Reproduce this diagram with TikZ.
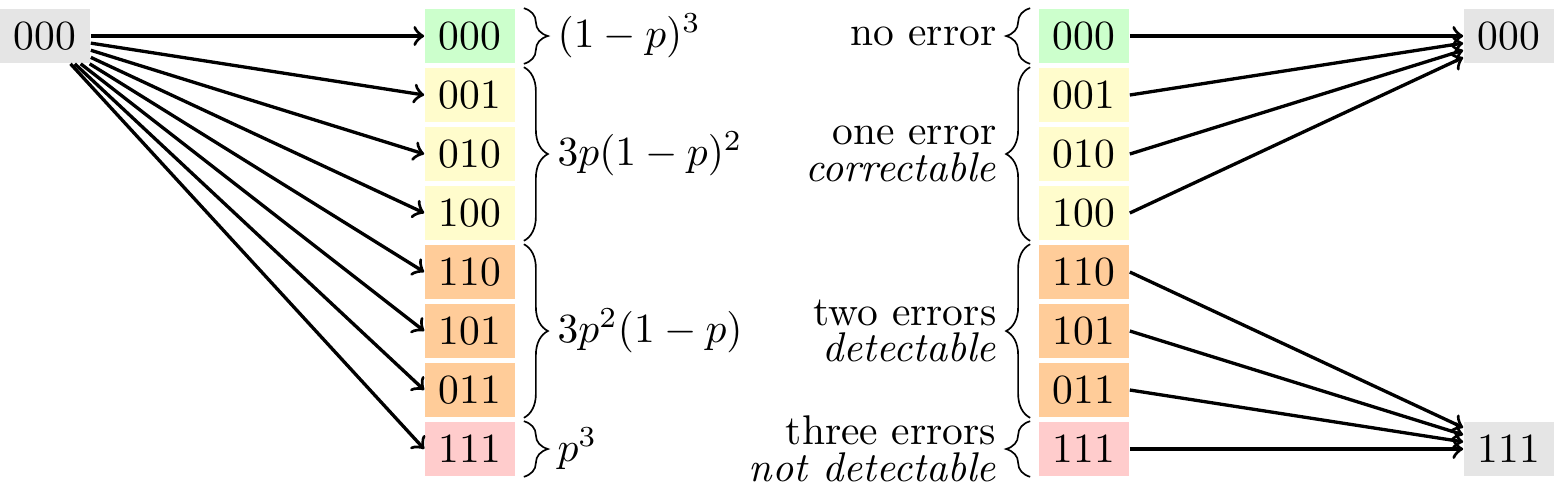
\documentclass[tikz,border=0pt]{standalone}
\usetikzlibrary{decorations.pathreplacing}
\definecolor{cgreen}{RGB}{204,255,204}
\definecolor{cyellow}{RGB}{255,252,204}
\definecolor{corange}{RGB}{255,204,153}
\definecolor{cred}{RGB}{255,204,204}
\definecolor{cgray}{RGB}{229,229,229}
\begin{document}
\begin{tikzpicture}[x=0.241pt,y=-0.241pt,
  bitbox/.style={inner sep=0pt, minimum width=21.69pt, minimum height=13.0pt},
  gbox/.style={bitbox, fill=cgreen},
  ybox/.style={bitbox, fill=cyellow},
  obox/.style={bitbox, fill=corange},
  rbox/.style={bitbox, fill=cred},
  endbox/.style={bitbox, fill=cgray},
  arr/.style={thick, ->},
  brc/.style={decorate, decoration={brace, amplitude=5.8pt, raise=1.93pt}},
  problabel/.style={anchor=west},
  errlabel/.style={anchor=east, align=right}]
\useasboundingbox (0,0) rectangle (1554,496);
% source
\node[endbox] (src) at (45,36) {000};
% left column
\node[gbox] (L1) at (470,36) {000};
\node[ybox] (L2) at (470,95) {001};
\node[ybox] (L3) at (470,154) {010};
\node[ybox] (L4) at (470,213) {100};
\node[obox] (L5) at (470,272) {110};
\node[obox] (L6) at (470,331) {101};
\node[obox] (L7) at (470,390) {011};
\node[rbox] (L8) at (470,449) {111};
% right column
\node[gbox] (R1) at (1084,36) {000};
\node[ybox] (R2) at (1084,95) {001};
\node[ybox] (R3) at (1084,154) {010};
\node[ybox] (R4) at (1084,213) {100};
\node[obox] (R5) at (1084,272) {110};
\node[obox] (R6) at (1084,331) {101};
\node[obox] (R7) at (1084,390) {011};
\node[rbox] (R8) at (1084,449) {111};
% decoded
\node[endbox] (D0) at (1509,36) {000};
\node[endbox] (D1) at (1509,449) {111};
% arrows left
\foreach \t in {L1,L2,L3,L4,L5,L6,L7,L8}
  \draw[arr] (src) -- (\t.west);
% arrows right
\foreach \s in {R1,R2,R3,R4}
  \draw[arr] (\s.east) -- (D0);
\foreach \s in {R5,R6,R7,R8}
  \draw[arr] (\s.east) -- (D1);
% left braces
\draw[brc] (L1.north east) -- (L1.south east);
\draw[brc] (L2.north east) -- (L4.south east);
\draw[brc] (L5.north east) -- (L7.south east);
\draw[brc] (L8.north east) -- (L8.south east);
\node[problabel] (P0) at (543,36) {$(1-p)^3$};
\node[problabel] (P1) at (543,154) {$3p(1-p)^2$};
\node[problabel] (P2) at (543,331) {$3p^2(1-p)$};
\node[problabel] (P3) at (543,449) {$p^3$};
% right braces
\draw[brc] (R1.south west) -- (R1.north west);
\draw[brc] (R4.south west) -- (R2.north west);
\draw[brc] (R7.south west) -- (R5.north west);
\draw[brc] (R8.south west) -- (R8.north west);
\node[errlabel] (E0) at (1011,36) {no error};
\node[errlabel] (E1) at (1011,154) {one error\\[-3.2pt]\textit{correctable}};
\node[errlabel] (E2) at (1011,331) {two errors\\[-3.2pt]\textit{detectable}};
\node[errlabel] (E3) at (1011,449) {three errors\\[-3.2pt]\textit{not detectable}};
\end{tikzpicture}
\end{document}
